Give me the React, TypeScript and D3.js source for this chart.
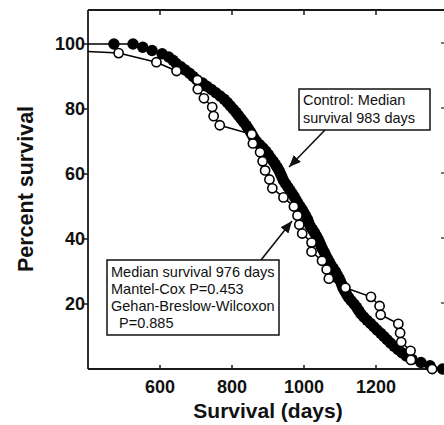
import React from "react";
import * as d3 from "d3";

const xTicks = [600, 800, 1000, 1200];
const yTicks = [20, 40, 60, 80, 100];

// Treated group (open circles): day of each death, percent surviving after it
const openDays = [485, 590, 646, 704, 705, 722, 745, 749, 766, 855, 858, 878, 885, 892, 904, 912, 943, 972, 982, 987, 995, 1021, 1021, 1050, 1063, 1069, 1115, 1186, 1210, 1213, 1262, 1267, 1270, 1296, 1297, 1356];
const openPct = [97.2, 94.4, 91.7, 88.9, 86.1, 83.3, 80.6, 77.8, 75.0, 72.2, 69.4, 66.7, 63.9, 61.1, 58.3, 55.6, 52.8, 50.0, 47.2, 44.4, 41.7, 38.9, 36.1, 33.3, 30.6, 27.8, 25.0, 22.2, 19.4, 16.7, 13.9, 11.1, 8.3, 5.6, 2.8, 0];

// Control group (filled circles)
const controlDays = [472, 525, 552, 578, 606, 624, 636, 645, 658, 670, 682, 692, 702, 718, 730, 743, 755, 767, 778, 787, 795, 803, 811, 818, 825, 832, 839, 845, 851, 856, 861, 868, 877, 886, 894, 901, 907, 914, 920, 926, 931, 935, 939, 943, 949, 955, 961, 967, 973, 978, 983, 989, 995, 1000, 1005, 1010, 1013, 1017, 1023, 1029, 1034, 1039, 1043, 1047, 1051, 1056, 1060, 1065, 1070, 1075, 1081, 1087, 1092, 1097, 1101, 1105, 1108, 1113, 1118, 1124, 1131, 1139, 1146, 1152, 1158, 1166, 1175, 1185, 1194, 1203, 1213, 1222, 1231, 1240, 1250, 1261, 1272, 1284, 1300, 1325, 1350, 1385];
const controlPct = [100, 100, 99, 98, 97, 96, 95, 94, 93, 92, 91, 90, 89, 88, 87, 86, 85, 84, 83, 82, 81, 80, 79, 78, 77, 76, 75, 74, 73, 72, 71, 70, 69, 68, 67, 66, 65, 64, 63, 62, 61, 60, 59, 58, 57, 56, 55, 54, 53, 52, 51, 50, 49, 48, 47, 46, 45, 44, 43, 42, 41, 40, 39, 38, 37, 36, 35, 34, 33, 32, 31, 30, 29, 28, 27, 26, 25, 24, 23, 22, 21, 20, 19, 18, 17, 16, 15, 14, 13, 12, 11, 10, 9, 8, 7, 6, 5, 4, 3, 2, 1, 0];

const startDay = 0;
const startPct = 100;

const boxControl = ["Control: Median", "survival 983 days"];
const boxTreated = ["Median survival 976 days", "Mantel-Cox P=0.453", "Gehan-Breslow-Wilcoxon", "  P=0.885"];

const W = 444;
const H = 425;
const left = 88;
const top = 10;
const bottom = 369;

export default function App() {
  const x = d3.scaleLinear().domain([400, 1200]).range([left, 376]);
  const y = d3.scaleLinear().domain([0, 100]).range([bottom, 44]);
  const font = "Arial, 'Liberation Sans', Helvetica, sans-serif";

  const ctrl = controlDays.map((d, i) => ({ d, p: controlPct[i] }));
  const opn = openDays.map((d, i) => ({ d, p: openPct[i] }));
  const line = d3
    .line<{ d: number; p: number }>()
    .x((v) => x(v.d))
    .y((v) => y(v.p));
  const ctrlPath = line([{ d: startDay, p: startPct }, ...ctrl]) || "";
  const openPath = line([{ d: startDay, p: startPct }, ...opn]) || "";

  const r = 4.6;
  const ax = "#1a1a1a";

  return (
    <svg
      width={W}
      height={H}
      style={{ position: "absolute", left: 0, top: 0, background: "#fff" }}
      fontFamily={font}
    >
      <defs>
        <clipPath id="plotclip">
          <rect x={left} y={0} width={W - left} height={H} />
        </clipPath>
        <marker
          id="arrow"
          viewBox="0 0 12 10"
          refX="12"
          refY="5"
          markerWidth="12"
          markerHeight="10"
          markerUnits="userSpaceOnUse"
          orient="auto"
        >
          <path d="M0,0 L12,5 L0,10 Z" fill="#111" />
        </marker>
      </defs>

      {/* frame */}
      <line x1={left} x2={W} y1={top} y2={top} stroke={ax} strokeWidth={1.8} />
      <line x1={left} x2={left} y1={top} y2={bottom} stroke={ax} strokeWidth={1.8} />
      <line x1={left} x2={W} y1={bottom} y2={bottom} stroke={ax} strokeWidth={1.8} />

      {/* x ticks (inward, bottom and top) */}
      {xTicks.map((t) => (
        <g key={"x" + t}>
          <line x1={x(t)} x2={x(t)} y1={bottom} y2={bottom - 4} stroke={ax} strokeWidth={1.5} />
          <line x1={x(t)} x2={x(t)} y1={top} y2={top + 5} stroke={ax} strokeWidth={1.5} />
          <text
            x={x(t)}
            y={393}
            textAnchor="middle"
            fontSize={18}
            fontWeight="bold"
            fill="#111"
          >
            {t}
          </text>
        </g>
      ))}

      {/* y ticks */}
      {yTicks.map((t) => (
        <g key={"y" + t}>
          <line x1={left - 4} x2={left} y1={y(t)} y2={y(t)} stroke={ax} strokeWidth={1.5} />
          <line x1={W - 3} x2={W} y1={y(t) - 1} y2={y(t) - 1} stroke={ax} strokeWidth={1.2} />
          <text
            x={left - 3}
            y={y(t)}
            dy="0.36em"
            textAnchor="end"
            fontSize={18}
            fontWeight="bold"
            fill="#111"
          >
            {t}
          </text>
        </g>
      ))}

      {/* axis titles */}
      <text
        x={268}
        y={418}
        textAnchor="middle"
        fontSize={21}
        fontWeight="bold"
        fill="#111"
      >
        Survival (days)
      </text>
      <text
        transform="translate(33,189) rotate(-90)"
        textAnchor="middle"
        fontSize={21.5}
        fontWeight="bold"
        fill="#111"
      >
        Percent survival
      </text>

      {/* series */}
      <g clipPath="url(#plotclip)">
        <path d={ctrlPath} fill="none" stroke="#000" strokeWidth={1.5} />
        {ctrl.map((v, i) => (
          <circle key={"c" + i} cx={x(v.d)} cy={y(v.p)} r={r + 1.1} fill="#000" />
        ))}
        <path d={openPath} fill="none" stroke="#000" strokeWidth={1.5} />
        {opn.map((v, i) => (
          <circle
            key={"o" + i}
            cx={x(v.d)}
            cy={y(v.p)}
            r={r}
            fill="#fff"
            stroke="#000"
            strokeWidth={1.6}
          />
        ))}
      </g>

      {/* annotation: control */}
      <line x1={325} y1={130} x2={289} y2={167} stroke="#111" strokeWidth={1.6} markerEnd="url(#arrow)" />
      <rect x={299} y={89} width={131} height={41} fill="#fff" stroke="#111" strokeWidth={1.5} />
      {boxControl.map((s, i) => (
        <text key={"bc" + i} x={303} y={105 + i * 17.5} fontSize={14.5} fill="#111">
          {s}
        </text>
      ))}

      {/* annotation: treated */}
      <line x1={261} y1={260} x2={292} y2={221} stroke="#111" strokeWidth={1.6} markerEnd="url(#arrow)" />
      <rect x={107} y={260} width={172} height={75} fill="#fff" stroke="#111" strokeWidth={1.5} />
      {boxTreated.map((s, i) => (
        <text
          key={"bt" + i}
          x={111}
          y={277 + i * 17}
          fontSize={14.5}
          fill="#111"
          style={{ whiteSpace: "pre" }}
        >
          {s}
        </text>
      ))}
    </svg>
  );
}
